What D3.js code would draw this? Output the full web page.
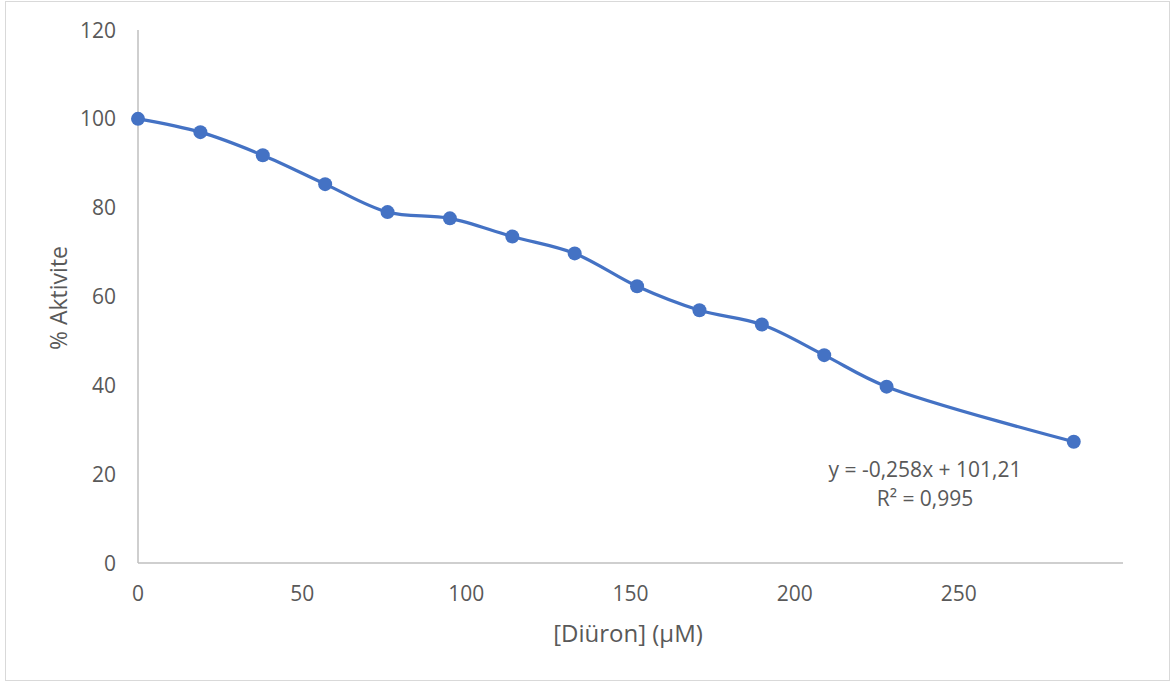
<!DOCTYPE html>
<html>
<head>
<meta charset="utf-8">
<script src="https://cdn.jsdelivr.net/npm/d3@7"></script>
<style>
  body { margin: 0; background: #fff; }
  #chart text { font-family: "Open Sans", "Liberation Sans", sans-serif; fill: #595959; }
</style>
</head>
<body>
<div id="chart"></div>
<script>
// concentrations (µM) and remaining activity (%)
const diuron = [0, 19, 38, 57, 76, 95, 114, 133, 152, 171, 190, 209, 228, 285];
const activity = [100, 97.0, 91.8, 85.3, 79.0, 77.6, 73.5, 69.7, 62.3, 56.9, 53.7, 46.8, 39.7, 27.3];
const xTicks = [0, 50, 100, 150, 200, 250];
const yTicks = [0, 20, 40, 60, 80, 100, 120];
const equation = ["y = -0,258x + 101,21", "R² = 0,995"];

const data = diuron.map((d, i) => ({ x: d, y: activity[i] }));

const width = 1172, height = 684;
const svg = d3.select("#chart").append("svg")
    .attr("width", width)
    .attr("height", height);

// outer frame
svg.append("rect")
    .attr("x", 5.5).attr("y", 1.5)
    .attr("width", 1164).attr("height", 679)
    .attr("fill", "#fff")
    .attr("stroke", "#d9d9d9");

const x = d3.scaleLinear().domain([0, 300]).range([138, 1123]);
const y = d3.scaleLinear().domain([0, 120]).range([563, 30]);

// axes lines
svg.append("line")
    .attr("x1", x(0)).attr("x2", x(300))
    .attr("y1", y(0)).attr("y2", y(0))
    .attr("stroke", "#bfbfbf").attr("stroke-width", 1.5);
svg.append("line")
    .attr("x1", x(0)).attr("x2", x(0))
    .attr("y1", y(0)).attr("y2", y(120))
    .attr("stroke", "#bfbfbf").attr("stroke-width", 1.5);

// tick labels
svg.selectAll(".ytick")
    .data(yTicks)
    .enter().append("text")
    .attr("class", "ytick")
    .attr("x", 116)
    .attr("y", d => y(d) + 7.5)
    .attr("text-anchor", "end")
    .style("font-size", "21px")
    .text(d => d);

svg.selectAll(".xtick")
    .data(xTicks)
    .enter().append("text")
    .attr("class", "xtick")
    .attr("x", d => x(d))
    .attr("y", 601)
    .attr("text-anchor", "middle")
    .style("font-size", "21px")
    .text(d => d);

// axis titles
svg.append("text")
    .attr("x", 628).attr("y", 642)
    .attr("text-anchor", "middle")
    .style("font-size", "24px")
    .text("[Diüron] (µM)");

svg.append("text")
    .attr("transform", "translate(67,298) rotate(-90)")
    .attr("text-anchor", "middle")
    .style("font-size", "23px")
    .text("% Aktivite");

// smoothed line
const line = d3.line()
    .x(d => x(d.x))
    .y(d => y(d.y))
    .curve(d3.curveCatmullRom.alpha(0.5));

svg.append("path")
    .datum(data)
    .attr("d", line)
    .attr("fill", "none")
    .attr("stroke", "#4472c4")
    .attr("stroke-width", 3.2);

svg.selectAll(".pt")
    .data(data)
    .enter().append("circle")
    .attr("class", "pt")
    .attr("cx", d => x(d.x))
    .attr("cy", d => y(d.y))
    .attr("r", 7)
    .attr("fill", "#4472c4");

// trendline label
svg.selectAll(".eq")
    .data(equation)
    .enter().append("text")
    .attr("class", "eq")
    .attr("x", 925)
    .attr("y", (d, i) => 477 + i * 29)
    .attr("text-anchor", "middle")
    .style("font-size", "21px")
    .text(d => d);
</script>
</body>
</html>
